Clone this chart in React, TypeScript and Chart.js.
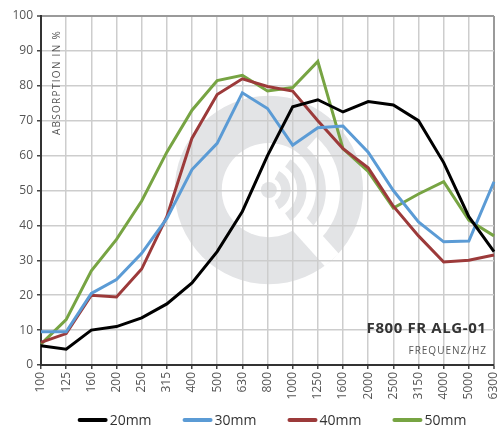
import React, { useEffect, useRef } from 'react';
import { Chart, registerables } from 'chart.js';

Chart.register(...registerables);

const frequencies = ['100', '125', '160', '200', '250', '315', '400', '500', '630', '800', '1000', '1250', '1600', '2000', '2500', '3150', '4000', '5000', '6300'];
const series20 = [5.5, 4.5, 10, 11, 13.5, 17.5, 23.5, 32.5, 44, 60, 74, 76, 72.5, 75.5, 74.5, 70, 58, 42.5, 32.5];
const series30 = [9.5, 9.5, 20.5, 24.5, 32, 42, 56, 63.5, 78, 73.5, 63, 68, 68.5, 61, 50, 41, 35.3, 35.5, 52.5];
const series40 = [6.5, 9, 20, 19.5, 27.5, 42.5, 65, 77.5, 82, 79.8, 78.5, 70, 62, 56.5, 45.5, 37, 29.5, 30, 31.5];
const series50 = [6, 13, 27, 36, 47, 61, 73, 81.5, 83, 78.5, 79.5, 87, 62, 55.5, 45, 49, 52.5, 41.5, 37];
const seriesLabels = ['20mm', '30mm', '40mm', '50mm'];
const seriesColors = ['#000000', '#5b9bd5', '#9c3a3a', '#77a443'];
const yMin = 0;
const yMax = 100;
const yStep = 10;
const chartTitle = 'F800 FR ALG-01';
const xTitle = 'FREQUENZ/HZ';
const yTitle = 'ABSORPTION IN %';

const FONT = "'Open Sans', 'DejaVu Sans', sans-serif";

const watermarkPlugin = {
  id: 'watermark',
  beforeDraw(chart: any) {
    const { ctx, chartArea } = chart;
    const w = chartArea.right - chartArea.left;
    const h = chartArea.bottom - chartArea.top;
    const cx = chartArea.left + w * 0.503;
    const cy = chartArea.top + h * 0.4986;
    const R = h * 0.27;
    const d = (a: number) => (a * Math.PI) / 180;
    const gray = '#e3e4e6';
    ctx.save();
    ctx.fillStyle = gray;
    ctx.beginPath();
    ctx.arc(cx, cy, R, 0, Math.PI * 2);
    ctx.fill();
    ctx.fillStyle = '#ffffff';
    ctx.beginPath();
    ctx.arc(cx, cy, R * 0.5, 0, Math.PI * 2);
    ctx.fill();
    // outer white arc
    ctx.strokeStyle = '#ffffff';
    ctx.lineWidth = R * 0.15;
    ctx.beginPath();
    ctx.arc(cx, cy, R * 0.68, d(-48), d(48));
    ctx.stroke();
    // tail
    ctx.lineWidth = R * 0.2;
    ctx.lineCap = 'butt';
    ctx.beginPath();
    ctx.moveTo(cx + Math.cos(d(48)) * R * 0.45, cy + Math.sin(d(48)) * R * 0.45);
    ctx.lineTo(cx + Math.cos(d(48)) * R * 1.0, cy + Math.sin(d(48)) * R * 1.0);
    ctx.stroke();
    // inner gray arcs
    ctx.strokeStyle = gray;
    ctx.lineWidth = R * 0.1;
    ctx.beginPath();
    ctx.arc(cx, cy, R * 0.18, d(-62), d(62));
    ctx.stroke();
    ctx.beginPath();
    ctx.arc(cx, cy, R * 0.35, d(-55), d(55));
    ctx.stroke();
    ctx.fillStyle = gray;
    ctx.beginPath();
    ctx.arc(cx, cy, R * 0.085, 0, Math.PI * 2);
    ctx.fill();
    ctx.restore();
  },
};

const annotationsPlugin = {
  id: 'annotations',
  afterDraw(chart: any) {
    const { ctx, chartArea } = chart;
    ctx.save();
    // chart title (bottom right)
    ctx.fillStyle = '#333333';
    ctx.font = `bold 15px ${FONT}`;
    (ctx as any).letterSpacing = '0.6px';
    ctx.textAlign = 'right';
    ctx.textBaseline = 'alphabetic';
    ctx.fillText(chartTitle, chartArea.right - 7.5, chartArea.bottom - 32);
    ctx.fillStyle = '#555555';
    ctx.font = `10px ${FONT}`;
    (ctx as any).letterSpacing = '1px';
    ctx.fillText(xTitle, chartArea.right - 7, chartArea.bottom - 11.5);
    // y title, rotated inside plot
    ctx.translate(chartArea.left + 16, chartArea.top + 14);
    ctx.rotate(-Math.PI / 2);
    ctx.textAlign = 'right';
    ctx.textBaseline = 'middle';
    ctx.font = `10px ${FONT}`;
    (ctx as any).letterSpacing = '1.3px';
    ctx.fillText(yTitle, 0, 0);
    ctx.restore();

    // legend
    ctx.save();
    ctx.font = `14px ${FONT}`;
    const swatch = 30;
    const gap = 2;
    const spacing = 31;
    const widths = chart.data.datasets.map((ds: any) => swatch + gap + ctx.measureText(ds.label).width);
    const total = widths.reduce((a: number, b: number) => a + b, 0) + spacing * (widths.length - 1);
    let x = (chartArea.left + chartArea.right) / 2 + 4.5 - total / 2;
    const y = 420;
    chart.data.datasets.forEach((ds: any, i: number) => {
      ctx.strokeStyle = ds.borderColor;
      ctx.lineWidth = 4;
      ctx.lineCap = 'round';
      ctx.beginPath();
      ctx.moveTo(x + 2, y);
      ctx.lineTo(x + swatch - 2, y);
      ctx.stroke();
      ctx.fillStyle = '#333333';
      ctx.textAlign = 'left';
      ctx.textBaseline = 'middle';
      ctx.fillText(ds.label, x + swatch + gap, y + 1);
      x += widths[i] + spacing;
    });
    ctx.restore();
  },
};

export default function App() {
  const canvasRef = useRef<HTMLCanvasElement | null>(null);

  useEffect(() => {
    if (!canvasRef.current) return;
    const seriesData = [series20, series30, series40, series50];
    const lastIndex = frequencies.length - 1;
    const chart = new Chart(canvasRef.current, {
      type: 'line',
      data: {
        labels: frequencies,
        datasets: seriesData.map((d, i) => ({
          label: seriesLabels[i],
          data: d,
          borderColor: seriesColors[i],
          backgroundColor: seriesColors[i],
          borderWidth: 3,
          pointRadius: 0,
          tension: 0,
          fill: false,
        })),
      },
      options: {
        animation: false,
        responsive: true,
        maintainAspectRatio: false,
        layout: { padding: { top: 16, left: 0, right: 7, bottom: 28 } },
        plugins: {
          legend: { display: false },
          tooltip: { enabled: false },
        },
        scales: {
          x: {
            offset: false,
            afterFit: (s: any) => {
              s.height = 35;
              s.paddingLeft = 0;
              s.paddingRight = 0;
            },
            grid: {
              color: (c: any) => (c.index === lastIndex ? '#9a9a9a' : '#cdcdcd'),
              lineWidth: (c: any) => (c.index === lastIndex ? 2 : 1.5),
              tickLength: 4,
              tickColor: '#444444',
              tickWidth: 1.5,
            },
            border: { color: '#333333', width: 2 },
            ticks: {
              minRotation: 90,
              maxRotation: 90,
              autoSkip: false,
              padding: 3,
              color: '#555555',
              font: { family: FONT, size: 12 },
            },
          },
          y: {
            min: yMin,
            max: yMax,
            afterFit: (s: any) => {
              s.width = 41;
              s.paddingTop = 0;
              s.paddingBottom = 0;
            },
            grid: {
              color: (c: any) => (c.tick && c.tick.value === yMax ? '#9a9a9a' : '#cdcdcd'),
              lineWidth: (c: any) => (c.tick && c.tick.value === yMax ? 2 : 1.5),
              tickLength: 4,
              tickColor: '#444444',
              tickWidth: 1.5,
            },
            border: { color: '#333333', width: 2 },
            ticks: {
              stepSize: yStep,
              padding: 4,
              color: '#555555',
              font: { family: FONT, size: 12 },
            },
          },
        },
      },
      plugins: [watermarkPlugin, annotationsPlugin],
    });
    return () => chart.destroy();
  }, []);

  return (
    <div style={{ position: 'absolute', left: 0, top: 0, width: 501, height: 428, background: '#ffffff' }}>
      <canvas ref={canvasRef} />
    </div>
  );
}
